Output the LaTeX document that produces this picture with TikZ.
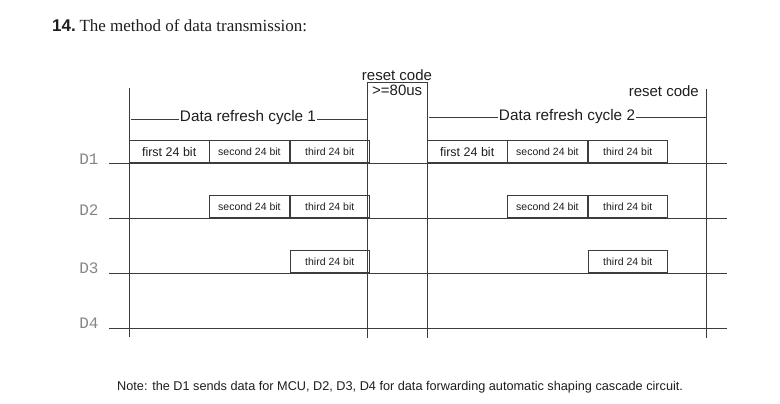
\documentclass[tikz,border=0pt]{standalone}
\usepackage{fontspec}
\setmainfont{Liberation Serif}
\setsansfont{Liberation Sans}
\setmonofont{Liberation Mono}
\usetikzlibrary{positioning}
\definecolor{linegray}{HTML}{3C3C3C}
\definecolor{labelgray}{HTML}{868686}
\definecolor{textblack}{HTML}{1E1E1E}

\begin{document}
\begin{tikzpicture}[
    x=1pt, y=-1pt,
    every node/.style={font=\sffamily, text=textblack},
    signal/.style={draw=linegray, line width=0.8pt},
    bitbox/.style={
        draw=linegray,
        line width=0.8pt,
        minimum width=79.5pt,
        minimum height=22pt,
        inner sep=0pt,
        font=\sffamily\fontsize{10.5}{12}\selectfont
    },
    firstbit/.style={font=\sffamily\fontsize{12.5}{14}\selectfont},
    cyclelabel/.style={
        fill=white,
        inner sep=1pt,
        font=\sffamily\fontsize{15.3}{17}\selectfont
    },
    resetlabel/.style={inner sep=0pt, font=\sffamily\fontsize{15}{17}\selectfont},
    linelabel/.style={text=labelgray, inner sep=0pt, font=\ttfamily\fontsize{16}{18}\selectfont}
]
\useasboundingbox (0,0) rectangle (780,404);

\node[anchor=base west, inner sep=0pt] (title) at (52,32)
    {{\sffamily\bfseries\fontsize{17}{19}\selectfont 14.} {\rmfamily\fontsize{17}{19}\selectfont The method of data transmission:}};

\coordinate (d1) at (109,163);
\coordinate (d2) at (109,218);
\coordinate (d3) at (109,273);
\coordinate (d4) at (109,328);

\node[linelabel] (l1) at (89,159) {D1};
\node[linelabel] (l2) at (89,210) {D2};
\node[linelabel] (l3) at (89,268) {D3};
\node[linelabel] (l4) at (89,323) {D4};

\foreach \d in {d1,d2,d3,d4}
    \draw[signal] (\d) -- ++(618,0);

\coordinate (left) at (129,88);
\coordinate (resetl) at (367,82);
\coordinate (resetr) at (427,82);
\coordinate (right) at (706,89);

\draw[signal] (left) -- (left |- 0,337);
\draw[signal] (resetl |- 0,338) -- (resetl) -- (resetr) -- (resetr |- 0,338);
\draw[signal] (right) -- (right |- 0,338);

% cycle 1
\node[bitbox, firstbit, anchor=south west] (a1) at (left |- d1) {first 24 bit};
\node[bitbox, right=0pt of a1] (a2) {second 24 bit};
\node[bitbox, right=0pt of a2] (a3) {third 24 bit};
\node[bitbox, anchor=south west] (b2) at (a2.south west |- d2) {second 24 bit};
\node[bitbox, right=0pt of b2] (b3) {third 24 bit};
\node[bitbox, anchor=south west] (c3) at (a3.south west |- d3) {third 24 bit};

% cycle 2
\node[bitbox, firstbit, anchor=south west] (e1) at (resetr |- d1) {first 24 bit};
\node[bitbox, right=0pt of e1] (e2) {second 24 bit};
\node[bitbox, right=0pt of e2] (e3) {third 24 bit};
\node[bitbox, anchor=south west] (f2) at (e2.south west |- d2) {second 24 bit};
\node[bitbox, right=0pt of f2] (f3) {third 24 bit};
\node[bitbox, anchor=south west] (g3) at (e3.south west |- d3) {third 24 bit};

\coordinate (c1l) at (131,119);
\coordinate (c2l) at (429,117);
\draw[signal] (c1l) -- (resetl |- c1l);
\draw[signal] (c2l) -- (right |- c2l);
\node[cyclelabel] (cycle1) at (248,118) {Data refresh cycle 1};
\node[cyclelabel] (cycle2) at (567,117) {Data refresh cycle 2};

\node[resetlabel, anchor=south] (reset1) at (397,81) {reset code};
\node[resetlabel, anchor=west] (reset1t) at (372,90) {>=80us};
\node[resetlabel, anchor=east] (reset2) at (699,91) {reset code};

\node[anchor=west, inner sep=0pt, font=\sffamily\fontsize{12.7}{15}\selectfont] (note) at (117,387)
    {Note: the D1 sends data for MCU, D2, D3, D4 for data forwarding automatic shaping cascade circuit.};

\end{tikzpicture}
\end{document}
